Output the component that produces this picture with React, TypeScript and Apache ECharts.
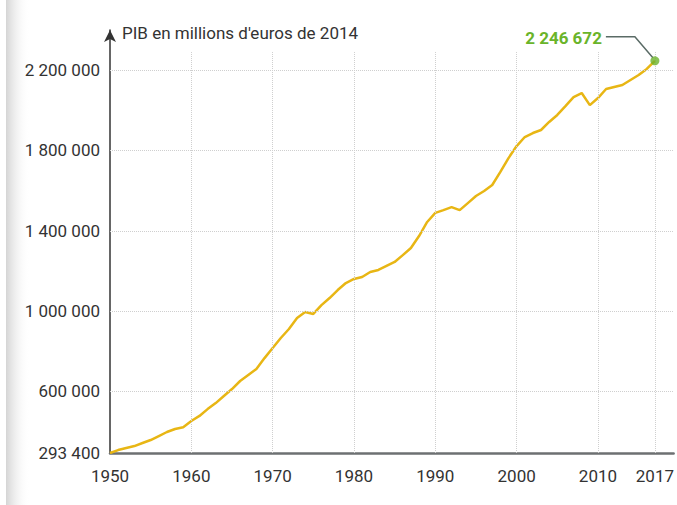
import React, { useEffect, useRef } from "react";
import * as echarts from "echarts";

const years = [
  1950, 1951, 1952, 1953, 1954, 1955, 1956, 1957, 1958, 1959,
  1960, 1961, 1962, 1963, 1964, 1965, 1966, 1967, 1968, 1969,
  1970, 1971, 1972, 1973, 1974, 1975, 1976, 1977, 1978, 1979,
  1980, 1981, 1982, 1983, 1984, 1985, 1986, 1987, 1988, 1989,
  1990, 1991, 1992, 1993, 1994, 1995, 1996, 1997, 1998, 1999,
  2000, 2001, 2002, 2003, 2004, 2005, 2006, 2007, 2008, 2009,
  2010, 2011, 2012, 2013, 2014, 2015, 2016, 2017,
];

const gdp = [
  293400, 308000, 318000, 328000, 343000, 358000, 378000, 398000, 413000, 422000,
  453000, 478000, 512000, 542000, 577000, 612000, 652000, 682000, 712000, 766000,
  816000, 866000, 911000, 966000, 996000, 986000, 1030000, 1065000, 1105000, 1140000,
  1160000, 1170000, 1195000, 1205000, 1225000, 1245000, 1279000, 1314000, 1374000, 1444000,
  1489000, 1503000, 1518000, 1503000, 1538000, 1573000, 1598000, 1628000, 1693000, 1762000,
  1822000, 1867000, 1887000, 1902000, 1942000, 1977000, 2021000, 2066000, 2086000, 2026000,
  2061000, 2106000, 2116000, 2126000, 2151000, 2176000, 2206000, 2246672,
];

const yTickValues = [293400, 600000, 1000000, 1400000, 1800000, 2200000];
const yGridValues = [600000, 1000000, 1400000, 1800000, 2200000];
const xTickValues = [1950, 1960, 1970, 1980, 1990, 2000, 2010, 2017];
const xGridYears = [1960, 1970, 1980, 1990, 2000, 2010, 2017];
const axisTitle = "PIB en millions d'euros de 2014";
const lastLabel = "2 246 672";

const FONT = "Roboto, 'Liberation Sans', sans-serif";

function fmt(v: number): string {
  return String(Math.round(v)).replace(/\B(?=(\d{3})+(?!\d))/g, " ");
}

export default function App() {
  const ref = useRef<HTMLDivElement>(null);

  useEffect(() => {
    if (!ref.current) return;
    const chart = echarts.init(ref.current, undefined, { renderer: "svg" });
    const yMin = yTickValues[0];
    const xLast = years[years.length - 1];
    const vLast = gdp[gdp.length - 1];
    const gridTop = 2290000;

    chart.setOption({
      animation: false,
      backgroundColor: "#ffffff",
      grid: { left: 110, right: 0, top: 30, bottom: 52 },
      xAxis: {
        type: "value",
        min: 1950,
        max: 2019.3,
        axisLine: { show: true, onZero: false, lineStyle: { color: "#6d7072", width: 2.5 } },
        axisTick: { show: false },
        splitLine: { show: false },
        axisLabel: {
          customValues: xTickValues,
          formatter: (v: number) => String(Math.round(v)),
          color: "#333",
          fontSize: 17,
          fontFamily: FONT,
          margin: 14,
        },
      },
      yAxis: {
        type: "value",
        min: yMin,
        max: 2400000,
        axisLine: {
          show: true,
          onZero: false,
          symbol: ["none", "arrow"],
          symbolSize: [9, 12],
          lineStyle: { color: "#333", width: 1.5 },
        },
        axisTick: { show: false },
        splitLine: { show: false },
        axisLabel: {
          customValues: yTickValues,
          formatter: (v: number) => fmt(v),
          color: "#333",
          fontSize: 17,
          fontFamily: FONT,
          margin: 10,
        },
      },
      series: [
        {
          type: "line",
          data: years.map((y, i) => [y, gdp[i]]),
          showSymbol: false,
          lineStyle: { color: "#e8b614", width: 2.5 },
          z: 3,
          markLine: {
            silent: true,
            symbol: "none",
            label: { show: false },
            lineStyle: { type: "dotted", color: "#cfcfcf", width: 1 },
            data: [
              ...yGridValues.map((v) => ({ yAxis: v })),
              ...xGridYears.map((y) => [{ coord: [y, yMin] }, { coord: [y, gridTop] }]),
            ],
          },
        },
        {
          type: "scatter",
          data: [[xLast, vLast]],
          symbol: "circle",
          symbolSize: 9,
          itemStyle: { color: "#6cb32c" },
          z: 5,
        },
      ],
    });

    const p = chart.convertToPixel({ gridIndex: 0 }, [xLast, vLast]) as number[];
    chart.setOption({
      graphic: [
        {
          type: "rect",
          left: 6,
          top: 0,
          shape: { width: 24, height: 505 },
          style: {
            fill: new echarts.graphic.LinearGradient(0, 0, 1, 0, [
              { offset: 0, color: "rgba(205,205,205,0.85)" },
              { offset: 1, color: "rgba(255,255,255,0)" },
            ]),
          },
          silent: true,
          z: -1,
        },
        {
          type: "text",
          x: 122,
          y: 33,
          style: {
            text: axisTitle,
            fill: "#333",
            fontSize: 17,
            fontFamily: FONT,
            verticalAlign: "middle",
            align: "left",
          },
        },
        {
          type: "text",
          x: p[0] - 53,
          y: p[1] - 23,
          style: {
            text: lastLabel,
            fill: "#6ab42a",
            fontSize: 17,
            fontWeight: "bold",
            fontFamily: FONT,
            verticalAlign: "middle",
            align: "right",
          },
        },
        {
          type: "polyline",
          shape: {
            points: [
              [p[0] - 49, p[1] - 24],
              [p[0] - 20, p[1] - 24],
              [p[0] - 2, p[1] - 3],
            ],
          },
          style: { stroke: "#5a6b66", lineWidth: 1.5, fill: "none" },
          z: 4,
        },
      ],
    });

    return () => chart.dispose();
  }, []);

  return (
    <div
      ref={ref}
      style={{ position: "fixed", left: 0, top: 0, width: 677, height: 505 }}
    />
  );
}
